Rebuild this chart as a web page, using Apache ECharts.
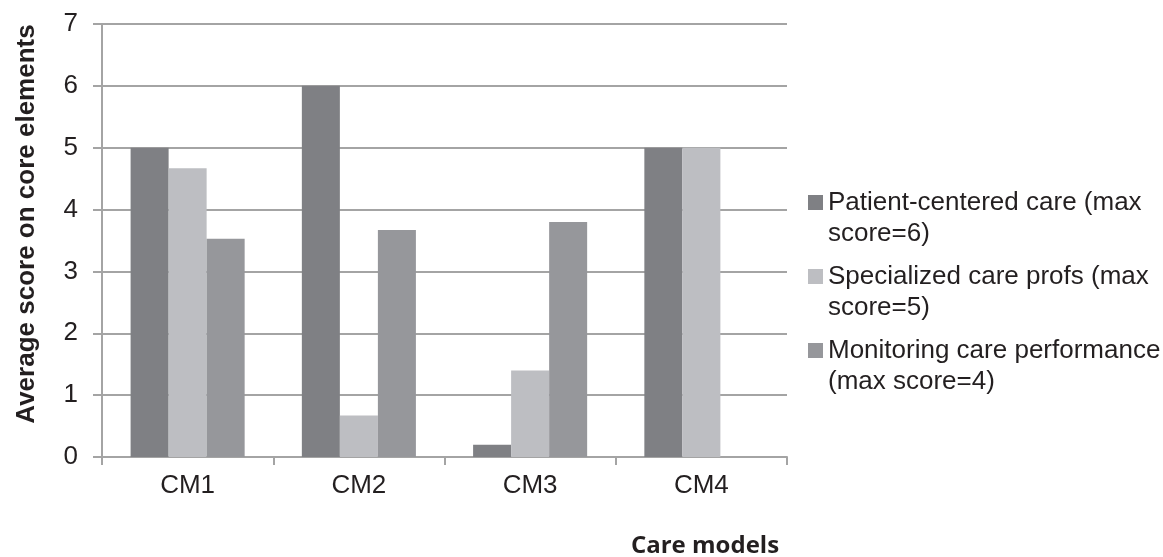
<!DOCTYPE html>
<html>
<head>
<meta charset="utf-8">
<title>Average score on core elements by care model</title>
<script src="https://cdn.jsdelivr.net/npm/echarts@6/dist/echarts.min.js"></script>
<style>
  html, body { margin: 0; padding: 0; background: #ffffff; }
  #chart { width: 1163px; height: 557px; }
</style>
</head>
<body>
<div id="chart"></div>
<script>
// Care models on the x axis
const categories = ['CM1', 'CM2', 'CM3', 'CM4'];

// Series names (legend text) and their wrapped display form
const seriesNames = [
  'Patient-centered care (max score=6)',
  'Specialized care profs (max score=5)',
  'Monitoring care performance (max score=4)'
];
const legendLines = {
  'Patient-centered care (max score=6)': ['Patient-centered care (max', 'score=6)'],
  'Specialized care profs (max score=5)': ['Specialized care profs (max', 'score=5)'],
  'Monitoring care performance (max score=4)': ['Monitoring care performance', '(max score=4)']
};

// Average scores per care model
const patientCentered = [5, 6, 0.2, 5];
const specializedProfs = [4.67, 0.67, 1.4, 5];
const monitoringPerformance = [3.53, 3.67, 3.8, null];

// Y axis tick values
const yTicks = [0, 1, 2, 3, 4, 5, 6, 7];

const seriesValues = [patientCentered, specializedProfs, monitoringPerformance];
const seriesColors = ['#7f8084', '#bdbec2', '#96979b'];

const textColor = '#231f20';
const lineColor = '#a4a4a4';
const baseFont = '"Liberation Sans", Arial, sans-serif';

const chart = echarts.init(document.getElementById('chart'), null, { renderer: 'canvas' });

chart.setOption({
  animation: false,
  backgroundColor: '#ffffff',
  grid: { left: 102, right: 376, top: 24, bottom: 100, containLabel: false },
  xAxis: {
    type: 'category',
    data: categories,
    boundaryGap: true,
    axisLine: { show: true, lineStyle: { color: lineColor, width: 2 } },
    axisTick: { show: true, length: 8, inside: false, lineStyle: { color: lineColor, width: 2 } },
    axisLabel: { margin: 16, color: textColor, fontSize: 26, fontFamily: baseFont },
    splitLine: { show: false }
  },
  yAxis: {
    type: 'value',
    min: yTicks[0],
    max: yTicks[yTicks.length - 1],
    interval: 1,
    axisLine: { show: true, lineStyle: { color: lineColor, width: 2 } },
    axisTick: { show: true, length: 9, inside: false, lineStyle: { color: lineColor, width: 2 } },
    axisLabel: { margin: 24, color: textColor, fontSize: 26, fontFamily: baseFont },
    splitLine: { show: true, lineStyle: { color: lineColor, width: 2 } }
  },
  legend: {
    orient: 'vertical',
    left: 808,
    top: 156,
    padding: 0,
    itemGap: -19,
    icon: 'rect',
    itemWidth: 15,
    itemHeight: 15,
    selectedMode: false,
    data: seriesNames,
    // a blank leading line keeps the swatch level with the first text line
    formatter: function (name) { return ' \n' + legendLines[name].join('\n'); },
    textStyle: {
      color: textColor,
      fontSize: 26,
      fontFamily: baseFont,
      lineHeight: 31
    }
  },
  series: seriesNames.map(function (name, i) {
    return {
      name: name,
      type: 'bar',
      data: seriesValues[i],
      barGap: '0%',
      barCategoryGap: '33.4%',
      itemStyle: { color: seriesColors[i] }
    };
  }),
  graphic: [
    {
      type: 'text',
      x: 27,
      y: 224,
      rotation: Math.PI / 2,
      style: {
        text: 'Average score on core elements',
        fill: textColor,
        font: 'bold 26px ' + baseFont,
        align: 'center',
        verticalAlign: 'middle'
      }
    },
    {
      type: 'text',
      x: 705,
      y: 546,
      style: {
        text: 'Care models',
        fill: textColor,
        font: 'bold 24px "Open Sans", sans-serif',
        align: 'center',
        verticalAlign: 'middle'
      }
    }
  ]
});
</script>
</body>
</html>
